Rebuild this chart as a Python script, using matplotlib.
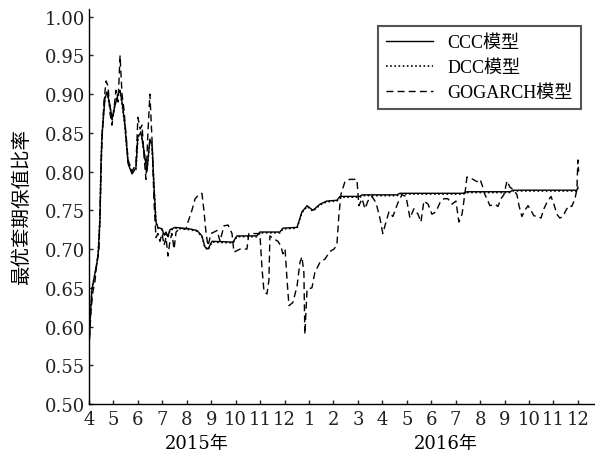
import numpy as np
import matplotlib
matplotlib.use("Agg")
import matplotlib.pyplot as plt
from matplotlib.transforms import blended_transform_factory

plt.rcParams['font.family'] = ['DejaVu Serif', 'Noto Sans CJK SC']

# x = months since April 2015 (0 = 2015-04, 20 = 2016-12)
ccc_x = [0, 0.04, 0.12, 0.25, 0.37, 0.45, 0.49, 0.53, 0.65, 0.74, 0.86, 0.94, 1.06, 1.19,
         1.27, 1.35, 1.47, 1.60, 1.76, 1.92, 2.00, 2.13, 2.21, 2.37, 2.49, 2.58, 2.66, 2.74,
         2.82, 2.99, 3.07, 3.15, 3.23, 3.31, 3.52, 4.13, 4.42, 4.62, 4.74, 4.87, 5.03, 5.89,
         6.05, 6.87, 6.99, 7.81, 7.93, 8.51, 8.71, 8.92, 9.16, 9.45, 9.73, 10.14, 10.27,
         11.08, 11.17, 12.60, 12.72, 15.30, 15.46, 17.22, 17.34, 19.96, 20.0]
ccc_y = [0.571, 0.606, 0.648, 0.670, 0.690, 0.740, 0.810, 0.846, 0.894, 0.903, 0.885, 0.868,
         0.885, 0.900, 0.905, 0.890, 0.860, 0.810, 0.797, 0.805, 0.846, 0.850, 0.835, 0.800,
         0.842, 0.835, 0.780, 0.735, 0.728, 0.726, 0.718, 0.722, 0.716, 0.725, 0.728, 0.726,
         0.724, 0.717, 0.703, 0.700, 0.710, 0.709, 0.717, 0.717, 0.722, 0.722, 0.727, 0.728,
         0.748, 0.756, 0.750, 0.758, 0.762, 0.763, 0.768, 0.768, 0.770, 0.770, 0.772, 0.772,
         0.774, 0.774, 0.776, 0.776, 0.780]
dcc_y = [0.573, 0.604, 0.650, 0.668, 0.692, 0.742, 0.808, 0.848, 0.896, 0.901, 0.883, 0.866,
         0.887, 0.902, 0.903, 0.888, 0.858, 0.812, 0.799, 0.803, 0.844, 0.852, 0.833, 0.802,
         0.840, 0.833, 0.778, 0.733, 0.727, 0.725, 0.717, 0.721, 0.715, 0.724, 0.727, 0.725,
         0.723, 0.716, 0.702, 0.699, 0.709, 0.708, 0.716, 0.716, 0.721, 0.721, 0.726, 0.727,
         0.747, 0.755, 0.749, 0.757, 0.761, 0.762, 0.767, 0.767, 0.769, 0.769, 0.771, 0.771,
         0.773, 0.773, 0.775, 0.775, 0.779]

gog_x = [0, 0.08, 0.16, 0.25, 0.33, 0.41, 0.45, 0.53, 0.61, 0.70, 0.78, 0.86, 0.94, 1.02,
         1.10, 1.19, 1.27, 1.35, 1.43, 1.51, 1.60, 1.76, 1.92, 2.00, 2.09, 2.17, 2.25, 2.33,
         2.41, 2.49, 2.58, 2.66, 2.74, 2.82, 2.90, 2.99, 3.07, 3.15, 3.23, 3.31, 3.39, 3.48,
         3.56, 3.72, 3.97, 4.05, 4.21, 4.34, 4.46, 4.62, 4.70, 4.79, 4.87, 4.99, 5.24, 5.36,
         5.52, 5.69, 5.85, 5.93, 6.18, 6.46, 6.54, 6.99, 7.08, 7.16, 7.28, 7.36, 7.40, 7.57,
         7.73, 7.85, 7.93, 8.02, 8.10, 8.18, 8.34, 8.51, 8.63, 8.71, 8.79, 8.83, 8.92, 9.12,
         9.24, 9.45, 9.65, 9.86, 10.02, 10.14, 10.22, 10.31, 10.47, 10.67, 10.96, 11.04, 11.17,
         11.29, 11.41, 11.57, 11.74, 11.90, 12.02, 12.15, 12.27, 12.43, 12.64, 12.80, 12.97,
         13.13, 13.29, 13.46, 13.58, 13.70, 13.87, 14.03, 14.19, 14.36, 14.52, 14.68, 14.85,
         15.01, 15.13, 15.26, 15.38, 15.46, 15.71, 15.87, 16.00, 16.11, 16.20, 16.28, 16.40,
         16.61, 16.73, 16.85, 16.97, 17.10, 17.22, 17.38, 17.51, 17.59, 17.71, 17.83, 17.96,
         18.08, 18.20, 18.36, 18.49, 18.61, 18.73, 18.90, 19.02, 19.14, 19.26, 19.39, 19.51,
         19.63, 19.75, 19.88, 19.96, 20.0, 20.03]
gog_y = [0.571, 0.620, 0.645, 0.660, 0.685, 0.700, 0.750, 0.840, 0.890, 0.917, 0.910, 0.875,
         0.860, 0.880, 0.905, 0.890, 0.950, 0.900, 0.880, 0.850, 0.815, 0.800, 0.810, 0.870,
         0.855, 0.860, 0.820, 0.790, 0.850, 0.900, 0.840, 0.760, 0.715, 0.720, 0.710, 0.720,
         0.705, 0.715, 0.691, 0.710, 0.720, 0.700, 0.722, 0.727, 0.726, 0.735, 0.750, 0.765,
         0.769, 0.772, 0.750, 0.720, 0.704, 0.720, 0.724, 0.710, 0.730, 0.731, 0.720, 0.696,
         0.700, 0.700, 0.720, 0.720, 0.674, 0.645, 0.642, 0.660, 0.717, 0.713, 0.710, 0.704,
         0.694, 0.700, 0.661, 0.627, 0.631, 0.652, 0.683, 0.690, 0.670, 0.590, 0.648, 0.650,
         0.670, 0.683, 0.687, 0.697, 0.700, 0.705, 0.743, 0.771, 0.787, 0.790, 0.790, 0.756,
         0.765, 0.752, 0.762, 0.768, 0.760, 0.740, 0.720, 0.735, 0.748, 0.742, 0.760, 0.770,
         0.768, 0.740, 0.752, 0.745, 0.735, 0.762, 0.758, 0.745, 0.748, 0.760, 0.765, 0.765,
         0.758, 0.762, 0.735, 0.745, 0.772, 0.793, 0.790, 0.787, 0.790, 0.780, 0.770, 0.765,
         0.756, 0.758, 0.755, 0.765, 0.770, 0.788, 0.780, 0.776, 0.770, 0.756, 0.742, 0.750,
         0.756, 0.750, 0.743, 0.742, 0.740, 0.752, 0.760, 0.768, 0.758, 0.745, 0.740, 0.742,
         0.750, 0.756, 0.755, 0.765, 0.777, 0.815, 0.800]

month_labels = ['4', '5', '6', '7', '8', '9', '10', '11', '12', '1', '2', '3',
                '4', '5', '6', '7', '8', '9', '10', '11', '12']
year_labels = ['2015年', '2016年']
year_pos = [4.4, 14.6]
series_names = ['CCC模型', 'DCC模型', 'GOGARCH模型']

fig = plt.figure(figsize=(5.95, 4.52), dpi=100)
ax = fig.add_axes([0.1496, 0.104, 0.8504, 0.874])

ax.plot(ccc_x, ccc_y, color='black', lw=1.0, ls='-', label=series_names[0])
ax.plot(ccc_x, dcc_y, color='black', lw=1.2, ls=(0, (1, 1.5)), label=series_names[1])
ax.plot(gog_x, gog_y, color='black', lw=1.0, ls=(0, (5, 3)), label=series_names[2])

ax.set_xlim(0, 20.7)
ax.set_ylim(0.5, 1.01)
ax.set_xticks(np.arange(len(month_labels)))
ax.set_xticklabels(month_labels)
ax.set_yticks(np.arange(0.5, 1.001, 0.05))
ax.set_yticklabels(['%.2f' % v for v in np.arange(0.5, 1.001, 0.05)])
ax.tick_params(direction='in', length=3, width=1, labelsize=13, colors='#222222')
ax.tick_params(axis='x', pad=4)
ax.tick_params(axis='y', pad=3)
ax.spines['top'].set_visible(False)
ax.spines['right'].set_visible(False)
for s in ['left', 'bottom']:
    ax.spines[s].set_linewidth(1.0)

ax.set_ylabel('最优套期保值比率', fontsize=14, labelpad=10)

trans = blended_transform_factory(ax.transData, ax.transAxes)
for lab, xp in zip(year_labels, year_pos):
    ax.text(xp, -0.1, lab, transform=trans, ha='center', va='center', fontsize=13)

leg = ax.legend(loc='upper left', bbox_to_anchor=(0.571, 0.957), borderaxespad=0,
                prop={'family': ['Liberation Serif', 'Noto Sans CJK SC'], 'size': 13},
                handlelength=2.6, labelspacing=0.45, borderpad=0.45,
                fancybox=False, framealpha=1, edgecolor='#555555')
leg.get_frame().set_linewidth(1.5)

fig.savefig('out.png', dpi=100)
